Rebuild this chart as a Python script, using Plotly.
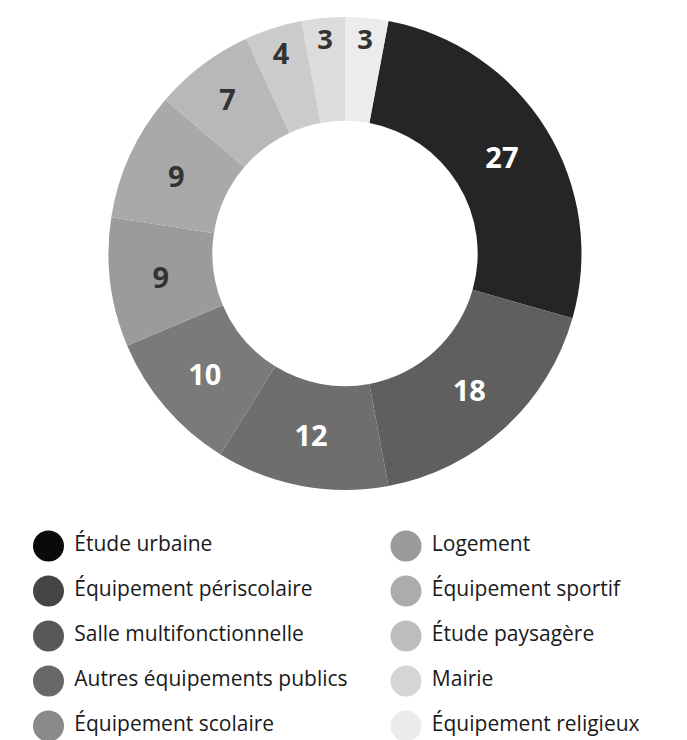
import plotly.graph_objects as go

categories = [
    "Étude urbaine",
    "Équipement périscolaire",
    "Salle multifonctionnelle",
    "Autres équipements publics",
    "Équipement scolaire",
    "Logement",
    "Équipement sportif",
    "Étude paysagère",
    "Mairie",
    "Équipement religieux",
]
values = [27, 18, 12, 10, 9, 9, 7, 4, 3, 3]
slice_colors = ["#252525", "#5f5f5f", "#6e6e6e", "#7a7a7a", "#9b9b9b",
                "#a9a9a9", "#b8b8b8", "#cbcbcb", "#dcdcdc", "#ececec"]
legend_colors = ["#0a0a0a", "#454545", "#585858", "#686868", "#8a8a8a",
                 "#9b9b9b", "#acacac", "#bebebe", "#d5d5d5", "#ebebeb"]
label_colors = ["#ffffff", "#ffffff", "#ffffff", "#ffffff", "#333333",
                "#333333", "#333333", "#333333", "#333333", "#333333"]

W, H = 687, 740
OFF = 8  # page body margin
# start angle: last slice (religieux) sits just before the first one
start_rotation = values[-1] / sum(values) * 360

fig = go.Figure()
fig.add_trace(go.Pie(
    labels=categories,
    values=values,
    sort=False,
    direction="clockwise",
    rotation=start_rotation,
    hole=0.561,
    marker=dict(colors=slice_colors, line=dict(width=0)),
    textinfo="value",
    textposition="inside",
    insidetextorientation="horizontal",
    insidetextfont=dict(family="Open Sans", size=29, weight="bold", color=label_colors),
    domain=dict(x=[(107 - OFF) / W, (583 - OFF) / W],
                y=[1 - (490 - OFF) / H, 1 - (17 - OFF) / H]),
    showlegend=False,
    hoverinfo="label+value",
))

# custom two-column legend (column-major order)
n_rows = 5
cols = [i // n_rows for i in range(len(categories))]
rows = [i % n_rows for i in range(len(categories))]
fig.add_trace(go.Scatter(
    x=cols,
    y=rows,
    mode="markers+text",
    text=["\u00a0" + c for c in categories],
    textposition="middle right",
    textfont=dict(family="Open Sans", size=21, color="#1a1a1a"),
    marker=dict(size=31, color=legend_colors, line=dict(width=0)),
    showlegend=False,
    hoverinfo="skip",
    cliponaxis=False,
))

px_per_col = 357.5
x0 = -(48.5 - OFF) / px_per_col
px_per_row = 45.0
y_top = -(546.0 - OFF) / px_per_row
fig.update_layout(
    width=W,
    height=H,
    margin=dict(l=0, r=0, t=0, b=0),
    paper_bgcolor="white",
    plot_bgcolor="white",
    xaxis=dict(range=[x0, x0 + W / px_per_col], visible=False, fixedrange=True),
    yaxis=dict(range=[y_top + H / px_per_row, y_top], visible=False, fixedrange=True),
)

fig.write_html("out.html")
